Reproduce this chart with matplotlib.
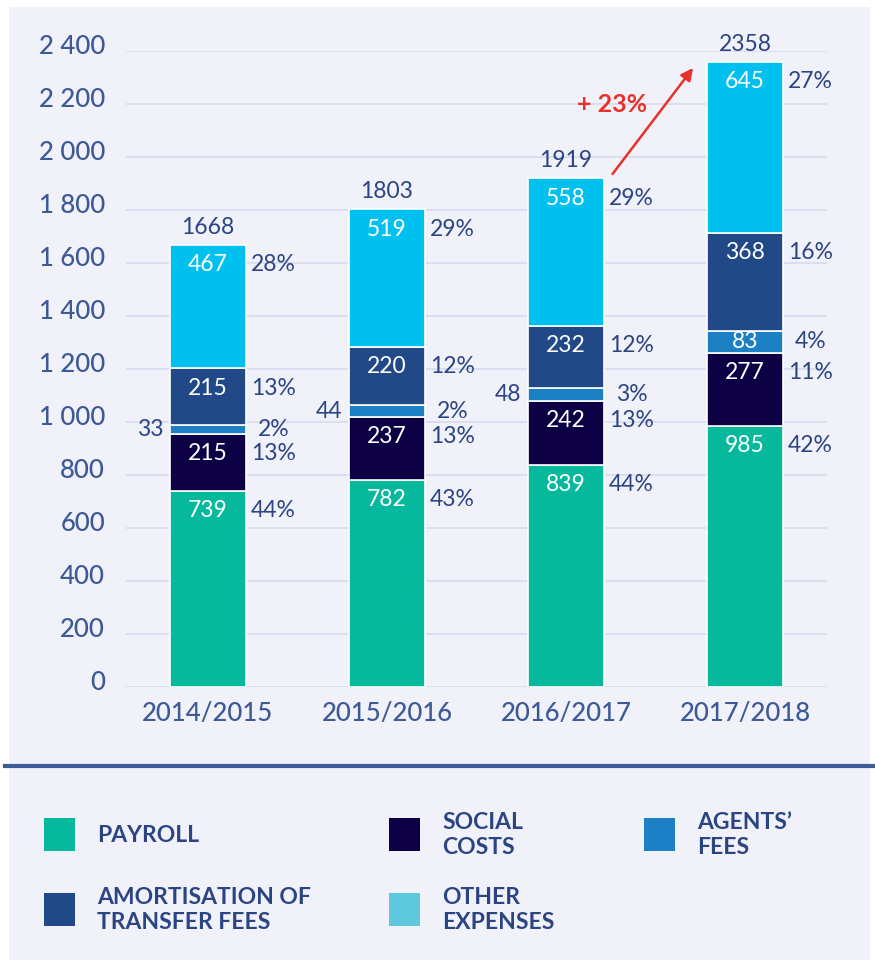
import matplotlib.pyplot as plt
import matplotlib.transforms as mtransforms
from matplotlib.patches import Rectangle
from matplotlib.lines import Line2D

plt.rcParams['font.family'] = ['Lato', 'DejaVu Sans']

seasons = ["2014/2015", "2015/2016", "2016/2017", "2017/2018"]
payroll = [739, 782, 839, 985]
social = [215, 237, 242, 277]
agents = [33, 44, 48, 83]
amort = [215, 220, 232, 368]
other = [467, 519, 558, 645]
totals = [1668, 1803, 1919, 2358]

pct_payroll = ["44%", "43%", "44%", "42%"]
pct_social = ["13%", "13%", "13%", "11%"]
pct_agents = ["2%", "2%", "3%", "4%"]
pct_amort = ["13%", "12%", "12%", "16%"]
pct_other = ["28%", "29%", "29%", "27%"]

growth = "+ 23%"
yticks = [0, 200, 400, 600, 800, 1000, 1200, 1400, 1600, 1800, 2000, 2200, 2400]
ytick_labels = ["0", "200", "400", "600", "800", "1 000", "1 200", "1 400",
                "1 600", "1 800", "2 000", "2 200", "2 400"]

legend_labels = ["PAYROLL", "SOCIAL\nCOSTS", "AGENTS’\nFEES",
                 "AMORTISATION OF\nTRANSFER FEES", "OTHER\nEXPENSES"]

# colours
c_payroll = "#06b89c"
c_social = "#0d0045"
c_agents = "#1b80c4"
c_amort = "#214887"
c_other = "#00c0f0"
c_other_leg = "#5ec8dc"
txt = "#2b4583"
tick_col = "#3d5a96"
bg = "#f0f1f9"
fs = 16.5

fig = plt.figure(figsize=(8.75, 9.65), dpi=100)
fig.patch.set_facecolor("white")
fig.add_artist(Rectangle((9 / 875, 5 / 965), 861 / 875, 953 / 965,
                         transform=fig.transFigure, facecolor=bg,
                         edgecolor="none", zorder=-5))

ax = fig.add_axes([126 / 875, 1 - 687 / 965, 701 / 875, 636 / 965])
ax.set_facecolor("none")

x = list(range(len(seasons)))
w = 0.425
series = [
    (payroll, c_payroll, pct_payroll),
    (social, c_social, pct_social),
    (agents, c_agents, pct_agents),
    (amort, c_amort, pct_amort),
    (other, c_other, pct_other),
]

bottom = [0] * len(seasons)
for k, (vals, col, pcts) in enumerate(series):
    ax.bar(x, vals, w, bottom=bottom, color=col, edgecolor="white",
           linewidth=1.2, zorder=3)
    for i, v in enumerate(vals):
        top = bottom[i] + v
        if v < 70:
            # thin segment: value on the left of the bar
            ym = bottom[i] + v / 2
            ax.text(i - w / 2 - 0.035, ym, str(v), ha="right", va="center",
                    fontsize=fs, color=txt, zorder=4)
        elif v < 100:
            ym = bottom[i] + v / 2
            ax.text(i, ym, str(v), ha="center", va="center",
                    fontsize=fs, color="white", zorder=4)
        else:
            ym = top - 74
            ax.text(i, ym, str(v), ha="center", va="center",
                    fontsize=fs, color="white", zorder=4)
        ax.text(i + 0.365, ym, pcts[i], ha="center", va="center",
                fontsize=fs, color=txt, zorder=4)
        bottom[i] = top

for i, t in enumerate(totals):
    ax.text(i, bottom[i] + 66, str(t), ha="center", va="center",
            fontsize=fs, color=txt, zorder=4)

# growth arrow between the last two seasons
ax.annotate("", xy=(2.71, totals[3] - 22), xytext=(2.26, totals[2] + 17),
            arrowprops=dict(arrowstyle="-|>", color="#e8312a", lw=1.8,
                            mutation_scale=18, shrinkA=0, shrinkB=0),
            zorder=5)
ax.text(2.26, 2200, growth, ha="center", va="center", fontsize=18,
        color="#e8312a", fontweight="bold")

ax.set_xlim(-0.458, 3.458)
ax.set_ylim(0, 2400)
ax.set_yticks(yticks)
ax.set_yticklabels(ytick_labels)
ax.set_xticks(x)
ax.set_xticklabels(seasons)
ax.tick_params(axis="both", length=0, labelsize=18.5, colors=tick_col)
ax.tick_params(axis="y", pad=15)
ax.tick_params(axis="x", pad=10)
for lab in ax.get_xticklabels() + ax.get_yticklabels():
    lab.set_fontweight("medium")
# y labels sit a little above their gridlines
shift = mtransforms.ScaledTranslation(0, 7 / 100, fig.dpi_scale_trans)
for lab in ax.get_yticklabels():
    lab.set_transform(lab.get_transform() + shift)
ax.grid(axis="y", color="#d9ddee", linewidth=1.3, zorder=1)
for s in ax.spines.values():
    s.set_visible(False)

# separator line above legend
fig.add_artist(Line2D([5 / 875, 1.0], [1 - 766 / 965, 1 - 766 / 965],
                      transform=fig.transFigure, color="#3d5b96", lw=3))

# legend
legend_colors = [c_payroll, c_social, c_agents, c_amort, c_other_leg]
legend_pos = [(44, 818), (389, 818), (644, 818), (44, 893), (389, 893)]
for lab, col, (px, py) in zip(legend_labels, legend_colors, legend_pos):
    fig.add_artist(Rectangle((px / 875, 1 - (py + 33) / 965), 31 / 875,
                             33 / 965, transform=fig.transFigure,
                             facecolor=col, edgecolor="none", zorder=2))
    fig.text((px + 53) / 875, 1 - (py + 17) / 965, lab, ha="left",
             va="center", fontsize=16.5, color=txt, fontweight="bold",
             linespacing=1.2)

fig.savefig("out.png", dpi=100, facecolor=fig.get_facecolor())
